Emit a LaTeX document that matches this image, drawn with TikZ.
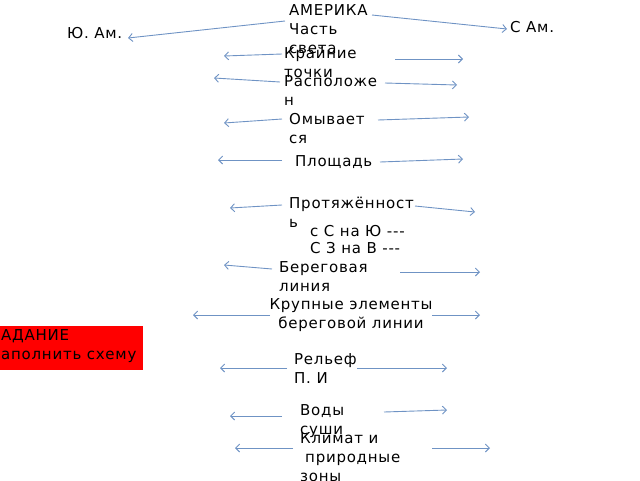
\documentclass[tikz,border=0pt]{standalone}
\usepackage{fontspec}
\setmainfont{DejaVu Sans}[LetterSpace=5]
\usetikzlibrary{arrows.meta}
\definecolor{arrc}{HTML}{6F93C4}
\begin{document}
\begin{tikzpicture}[x=1pt,y=-1pt,
  lbl/.style={anchor=north west,inner sep=0pt,align=left,font=\fontsize{15}{19}\selectfont},
  arr/.style={draw=arrc,line width=0.9pt,-{Straight Barb[length=4pt,width=8pt]}}]
\useasboundingbox (0,0) rectangle (640,480);
\node[lbl] (am) at (289,4) {АМЕРИКА\\Часть\\света};
\node[lbl] (ju) at (67,27) {Ю. Ам.};
\node[lbl] (sa) at (510,21) {С Ам.};
\node[lbl] (kr) at (284,47) {Крайние\\точки};
\node[lbl] (ra) at (284,75) {Расположе\\н};
\node[lbl] (om) at (289,113) {Омывает\\ся};
\node[lbl] (pl) at (295,155) {Площадь};
\node[lbl] (pr) at (289,197) {Протяжённост\\ь};
\node[lbl] (sn) at (310,225) {с С на Ю -{}-{}-};
\node[lbl] (zv) at (310,242) {С З на В -{}-{}-};
\node[lbl] (be) at (279,261) {Береговая\\линия};
\node[lbl,align=center,anchor=north] (ke) at (351,298) {Крупные элементы\\береговой линии};
\node[fill=red,minimum width=143pt,minimum height=44pt,anchor=north west,inner sep=0pt] (rb) at (0,326) {};
\node[lbl] (zd) at (1,329) {АДАНИЕ\\аполнить схему};
\node[lbl] (re) at (294,353) {Рельеф\\П. И};
\node[lbl] (vo) at (300,404) {Воды\\суши};
\node[lbl] (kl) at (300,432) {Климат и\\\hspace*{5pt}природные\\зоны};
\foreach \a/\b/\c/\d in {285/21/128/38, 372/15/507/29, 282/54/224/56, 395/59/463/59,
  280/82/214/78, 385/83/457/85, 282/119/224/123, 378/120/469/117, 282/160/218/160,
  380/162/463/159, 282/205/230/208, 415/206/475/212, 272/269/224/265, 400/272/480/272,
  270/315/193/315, 432/315/480/315, 287/368/220/368, 357/368/447/368, 282/416/230/416,
  384/412/447/410, 293/448/235/448, 432/448/490/448}
  {\coordinate (s) at (\a,\b); \coordinate (e) at (\c,\d); \draw[arr] (s) -- (e);}
\end{tikzpicture}
\end{document}
